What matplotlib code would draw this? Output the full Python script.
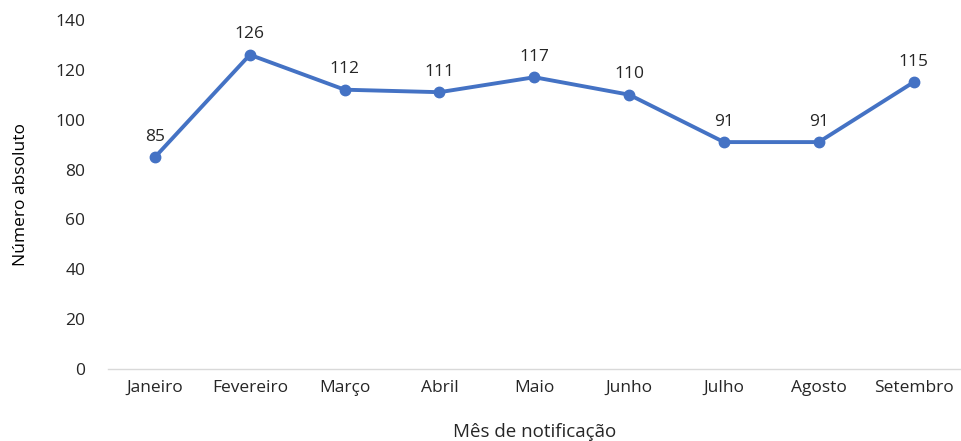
import matplotlib.pyplot as plt

meses = ["Janeiro", "Fevereiro", "Março", "Abril", "Maio", "Junho", "Julho", "Agosto", "Setembro"]
casos = [85, 126, 112, 111, 117, 110, 91, 91, 115]

plt.rcParams['font.family'] = ['Open Sans', 'DejaVu Sans']

fig = plt.figure(figsize=(9.61, 4.41), dpi=100)
ax = fig.add_axes([0.112, 0.163, 0.888, 0.792])

x = list(range(len(meses)))
ax.plot(x, casos, color='#4472C4', linewidth=2.8, marker='o', markersize=7.5)
for xi, v in zip(x, casos):
    ax.annotate(str(v), (xi, v), xytext=(0, 9), textcoords='offset points',
                ha='center', va='bottom', fontsize=12.5, color='#262626')

ax.set_xlim(-0.5, 8.5)
ax.set_ylim(0, 140)
ax.set_yticks(range(0, 141, 20))
ax.set_xticks(x)
ax.set_xticklabels(meses)
ax.tick_params(axis='both', length=0, labelsize=12.5, labelcolor='#262626')
ax.tick_params(axis='y', pad=16)
ax.tick_params(axis='x', pad=8)
for s in ['top', 'right', 'left']:
    ax.spines[s].set_visible(False)
ax.spines['bottom'].set_color('#d9d9d9')
ax.spines['bottom'].set_linewidth(1)

ax.set_xlabel('Mês de notificação', fontsize=13.5, color='#262626', labelpad=19)
ax.set_ylabel('Número absoluto', fontsize=12.5, color='black', labelpad=19)

fig.savefig('out.png', dpi=100)
